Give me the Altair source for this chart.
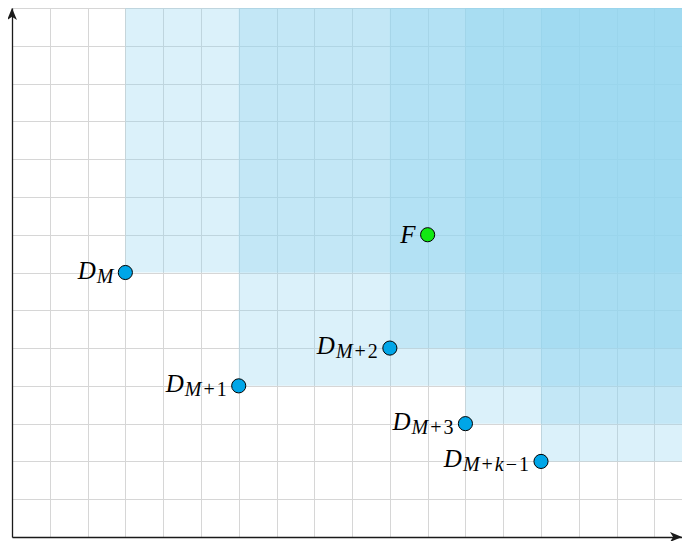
import altair as alt
import pandas as pd

# ---- data ----
d_subs = ["M", "M+1", "M+2", "M+3", "M+k\u22121"]
d_x = [3, 6, 10, 12, 14]
d_y = [7, 4, 5, 3, 2]
f_label = ["F"]
f_x = [11]
f_y = [8]
x_grid = list(range(0, 18))
y_grid = list(range(0, 15))
Y_MAX = 14
PLOT_W = 670
PLOT_H = 529
X_MAX = PLOT_W / (PLOT_H / Y_MAX)   # keep square grid cells

SHADE = "#92d5f0"
D_FILL = "#00a6e8"
F_FILL = "#12e812"
FONT = "Liberation Serif"
MAIN_SIZE = 25
SUB_SIZE = 20

xs = alt.Scale(domain=[0, X_MAX], nice=False, zero=False)
ys = alt.Scale(domain=[0, Y_MAX], nice=False, zero=False)

xaxis = alt.Axis(values=x_grid, grid=True, gridColor="#d6d6d6", gridWidth=1,
                 labels=False, ticks=False, domain=True, domainColor="#1a1a1a",
                 domainWidth=1.3, title=None, labelOverlap=False)
yaxis = alt.Axis(values=y_grid, grid=True, gridColor="#d6d6d6", gridWidth=1,
                 labels=False, ticks=False, domain=True, domainColor="#1a1a1a",
                 domainWidth=1.3, title=None, labelOverlap=False)

X = alt.X("x:Q", scale=xs, axis=xaxis)
Y = alt.Y("y:Q", scale=ys, axis=yaxis)

df_d = pd.DataFrame({
    "x": d_x, "y": d_y, "sub": d_subs,
    "x2": [X_MAX] * len(d_x), "y2": [Y_MAX] * len(d_x),
})
df_f = pd.DataFrame({"x": f_x, "y": f_y, "lab": f_label})

rects = alt.Chart(df_d).mark_rect(color=SHADE, fillOpacity=0.33, strokeWidth=0).encode(
    x=X, x2="x2:Q", y=Y, y2="y2:Q",
)

d_points = alt.Chart(df_d).mark_circle(
    size=200, color=D_FILL, opacity=1, stroke="black", strokeWidth=1
).encode(x=X, y=Y)

f_points = alt.Chart(df_f).mark_circle(
    size=200, color=F_FILL, opacity=1, stroke="black", strokeWidth=1
).encode(x=X, y=Y)

# approximate advance widths (em) of the serif font for subscript pieces
EM_ITALIC = {"M": 0.833, "k": 0.444}
EM_UPRIGHT = {"+": 0.564, "\u2212": 0.564}
OP_PAD = 2.0
GAP_RIGHT = 12


def pieces(s):
    out = []
    for c in s:
        if c.isalpha():
            out.append((c, True, EM_ITALIC.get(c, 0.5) * SUB_SIZE, 0.0))
        elif c in EM_UPRIGHT:
            out.append((c, False, EM_UPRIGHT[c] * SUB_SIZE, OP_PAD))
        else:
            out.append((c, False, 0.5 * SUB_SIZE, 0.0))
    return out


label_layers = []
for i in range(len(d_x)):
    row = df_d.iloc[[i]]
    segs = pieces(d_subs[i])
    total = sum(w + 2 * p for _, _, w, p in segs)
    start = -GAP_RIGHT - total
    label_layers.append(
        alt.Chart(row).mark_text(
            align="right", baseline="alphabetic", dx=start - 1, dy=6,
            font=FONT, fontStyle="italic", fontSize=MAIN_SIZE, color="black"
        ).encode(x=X, y=Y, text=alt.value("D"))
    )
    cur = start
    for ch, ital, w, p in segs:
        label_layers.append(
            alt.Chart(row).mark_text(
                align="left", baseline="alphabetic", dx=cur + p, dy=10,
                font=FONT, fontStyle="italic" if ital else "normal",
                fontSize=SUB_SIZE, color="black"
            ).encode(x=X, y=Y, text=alt.value(ch))
        )
        cur += w + 2 * p

f_text = alt.Chart(df_f).mark_text(
    align="right", baseline="alphabetic", dx=-12, dy=8,
    font=FONT, fontStyle="italic", fontSize=MAIN_SIZE, color="black"
).encode(x=X, y=Y, text="lab:N")

UP = "M0,0 L-0.62,1.5 L0,1.1 L0.62,1.5 Z"
RIGHT = "M0,0 L-1.5,-0.62 L-1.1,0 L-1.5,0.62 Z"

arrow_x = alt.Chart(pd.DataFrame({"x": [X_MAX], "y": [0]})).mark_point(
    shape=RIGHT, filled=True, size=256, color="#1a1a1a", opacity=1
).encode(x=X, y=Y)

arrow_y = alt.Chart(pd.DataFrame({"x": [0], "y": [Y_MAX]})).mark_point(
    shape=UP, filled=True, size=256, color="#1a1a1a", opacity=1
).encode(x=X, y=Y)

chart = alt.layer(
    rects, d_points, f_points, *label_layers, f_text, arrow_x, arrow_y
).properties(
    width=PLOT_W, height=PLOT_H,
    padding={"left": 4, "top": 0, "right": 0, "bottom": 4},
    autosize=alt.AutoSizeParams(type="none"),
).configure_view(strokeWidth=0)

chart.save("out.html", embed_options={"renderer": "svg", "actions": False})
